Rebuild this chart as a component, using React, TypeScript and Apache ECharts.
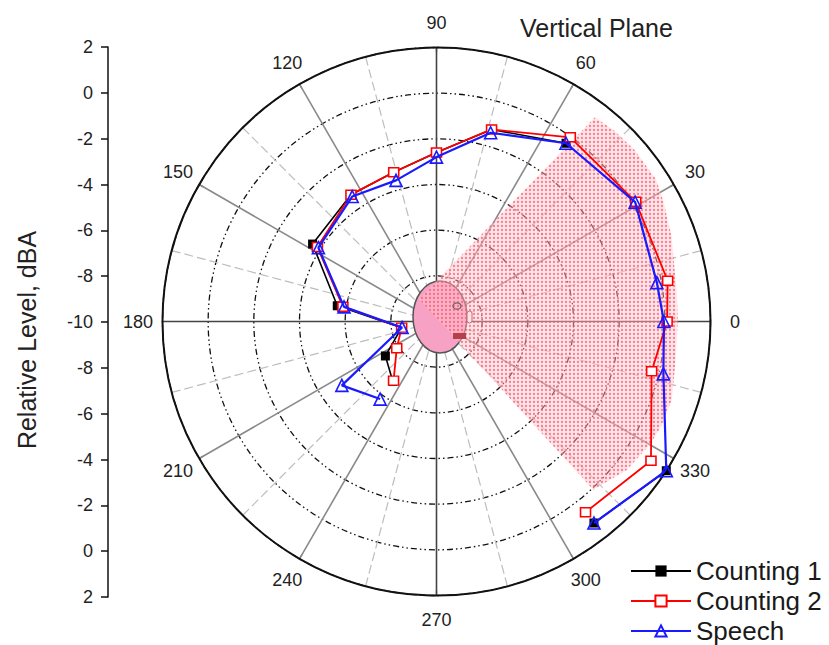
import React, { useEffect, useRef } from "react";
import * as echarts from "echarts";

// angles (degrees) at which the three series were measured, in drawing order
const angles = [308, 327, 347, 0, 10, 31, 54, 74, 90, 106, 124, 148, 171, 190, 214, 234];
const counting1 = [1.2, 2.0, null, null, null, null, -0.35, -1.25, -2.6, -3.2, -3.3, -3.6, -5.6, -8.45, -7.3, -6.75];
const counting2 = [0.6, 1.2, -0.33, 0.1, 0.28, 0.18, -0.03, -1.25, -2.6, -3.2, -3.3, -3.85, -5.85, -8.45, -7.9, -6.8];
const speech = [1.2, 2.0, 0.2, -0.04, -0.2, 0.15, -0.35, -1.4, -2.8, -3.57, -3.4, -3.9, -5.9, -8.47, -5.0, -5.8];

// shaded coverage cone (polar: angle, value)
const coneAngles = [128, 52.2, 47, 40.8, 33, 28, 20, 14, 7, 0, 350, 341.6, 335, 330, 322, 313];
const coneValues = [-8.75, 1.32, 1.42, 1.47, 1.45, 1.25, 0.95, 0.72, 0.6, 0.57, 0.62, 0.86, 0.85, 0.79, 0.57, 0.07];

const radiusTicks = [-10, -8, -6, -4, -2, 0, 2];
const angleTicks = [0, 30, 60, 90, 120, 150, 180, 210, 240, 270, 300, 330];
const angleLabelRadius = 3.07; // in radius-axis units, just outside the rim

const FONT = "'Liberation Sans', Arial, sans-serif";

export default function App() {
  const ref = useRef<HTMLDivElement>(null);
  useEffect(() => {
    if (!ref.current) return;
    const chart = echarts.init(ref.current, undefined, { renderer: "svg" });

    const cv = document.createElement("canvas");
    cv.width = 4;
    cv.height = 4;
    const ctx = cv.getContext("2d");
    if (ctx) {
      ctx.fillStyle = "rgba(255,200,208,0.45)";
      ctx.fillRect(0, 0, 4, 4);
      ctx.fillStyle = "rgba(255,80,100,0.7)";
      ctx.beginPath();
      ctx.arc(2, 2, 1.15, 0, Math.PI * 2);
      ctx.fill();
    }
    const pattern: any = { image: cv.toDataURL(), repeat: "repeat", imageWidth: 4, imageHeight: 4 };

    const toData = (vals: (number | null)[]) =>
      vals.map((v, i) => (v === null ? [null, angles[i]] : [v, angles[i]]));

    const option: any = {
      animation: false,
      backgroundColor: "#fff",
      title: {
        text: "Vertical Plane",
        left: 515,
        top: 10,
        textStyle: { fontFamily: FONT, fontSize: 25, fontWeight: "normal", color: "#222" },
      },
      legend: {
        orient: "vertical",
        left: 630,
        top: 558,
        padding: 0,
        itemWidth: 60,
        itemHeight: 14,
        itemGap: 4,
        data: ["Counting 1", "Counting 2", "Speech"],
        textStyle: { fontFamily: FONT, fontSize: 26, color: "#1a1a1a", lineHeight: 26 },
      },
      polar: { center: [436.5, 321.5], radius: 274 },
      radiusAxis: {
        type: "value",
        min: radiusTicks[0],
        max: radiusTicks[radiusTicks.length - 1],
        interval: 2,
        axisLine: { show: false },
        axisTick: { show: false },
        axisLabel: { show: false },
        splitLine: {
          show: true,
          lineStyle: { color: "#111", width: 1.3, type: [6, 3, 1.5, 3, 1.5, 3] },
        },
      },
      angleAxis: {
        type: "value",
        min: 0,
        max: 360,
        interval: 30,
        startAngle: 0,
        clockwise: false,
        axisLine: { show: true, lineStyle: { color: "#111", width: 2 } },
        axisTick: { show: true, inside: true, length: 5, lineStyle: { color: "#111", width: 1.2 } },
        axisLabel: { show: false },
        splitLine: {
          show: true,
          lineStyle: { color: ["#444", "#8a8a8a", "#8a8a8a"], width: 1.6 },
        },
        minorTick: { show: false, splitNumber: 2 },
        minorSplitLine: { show: true, lineStyle: { color: "#bdbdbd", width: 1.2, type: [9, 4] } },
      },
      grid: { left: 108, top: 47, width: 10, height: 550 },
      xAxis: { type: "value", show: false, min: 0, max: 1 },
      yAxis: {
        type: "value",
        min: -12,
        max: 12,
        interval: 2,
        position: "left",
        axisLine: { show: true, lineStyle: { color: "#111", width: 1.5 } },
        axisTick: { show: true, length: 7, lineStyle: { color: "#111", width: 1.5 } },
        axisLabel: {
          margin: 15,
          fontFamily: FONT,
          fontSize: 18,
          color: "#222",
          formatter: (v: number) => String(Math.abs(v) - 10),
        },
        splitLine: { show: false },
      },
      graphic: [
        {
          type: "text",
          x: 27,
          y: 340,
          rotation: Math.PI / 2,
          style: {
            text: "Relative Level, dBA",
            fontFamily: FONT,
            fontSize: 25,
            fill: "#222",
            textAlign: "center",
            textVerticalAlign: "middle",
          },
        },
        {
          type: "ellipse",
          z: 1,
          shape: { cx: 440, cy: 317, rx: 27, ry: 36 },
          style: { fill: "#f7a1c4", stroke: "#555", lineWidth: 1.5 },
        },
        {
          type: "ellipse",
          z: 10,
          shape: { cx: 457, cy: 306, rx: 4, ry: 3.2 },
          style: { fill: "none", stroke: "#666", lineWidth: 1.3 },
        },
        {
          type: "rect",
          z: 10,
          shape: { x: 467, y: 311, width: 5, height: 12, r: 2.5 },
          style: { fill: "#fbe3e8", stroke: "#c06a7a", lineWidth: 1 },
        },
        {
          type: "rect",
          z: 10,
          shape: { x: 453, y: 333, width: 13, height: 6 },
          style: { fill: "#b5404a", stroke: "none" },
        },
      ],
      series: [
        {
          type: "custom",
          coordinateSystem: "polar",
          silent: true,
          z: 2,
          data: [[0, 0]],
          renderItem: (_params: any, api: any) => {
            const pts = coneAngles.map((a, i) => api.coord([coneValues[i], a]));
            return {
              type: "polygon",
              shape: { points: pts },
              style: { fill: pattern, stroke: null },
            };
          },
        },
        {
          type: "custom",
          coordinateSystem: "polar",
          silent: true,
          clip: false,
          z: 6,
          data: angleTicks.map((a) => [angleLabelRadius, a]),
          renderItem: (params: any, api: any) => {
            const a = angleTicks[params.dataIndex];
            const p = api.coord([angleLabelRadius, a]);
            return {
              type: "text",
              x: p[0],
              y: p[1],
              style: {
                text: String(a),
                fontFamily: FONT,
                fontSize: 18,
                fill: "#222",
                textAlign: "center",
                textVerticalAlign: "middle",
              },
            };
          },
        },
        {
          type: "line",
          name: "Counting 1",
          coordinateSystem: "polar",
          data: toData(counting1),
          connectNulls: false,
          symbol: "rect",
          symbolSize: 9,
          lineStyle: { color: "#000", width: 1.6 },
          itemStyle: { color: "#000" },
          z: 3,
        },
        {
          type: "line",
          name: "Counting 2",
          coordinateSystem: "polar",
          data: toData(counting2),
          symbol: "rect",
          symbolSize: [10, 9],
          lineStyle: { color: "#ff0000", width: 1.8 },
          itemStyle: { color: "#fff", borderColor: "#ff0000", borderWidth: 1.5 },
          z: 4,
        },
        {
          type: "line",
          name: "Speech",
          coordinateSystem: "polar",
          data: toData(speech),
          symbol: "triangle",
          symbolSize: 12,
          lineStyle: { color: "#1a1aff", width: 2.2 },
          itemStyle: { color: "rgba(255,255,255,0)", borderColor: "#1a1aff", borderWidth: 1.6 },
          z: 5,
        },
      ],
    };

    chart.setOption(option);
    return () => chart.dispose();
  }, []);

  return (
    <div
      ref={ref}
      style={{ position: "absolute", left: 0, top: 0, width: 829, height: 645, background: "#fff" }}
    />
  );
}
